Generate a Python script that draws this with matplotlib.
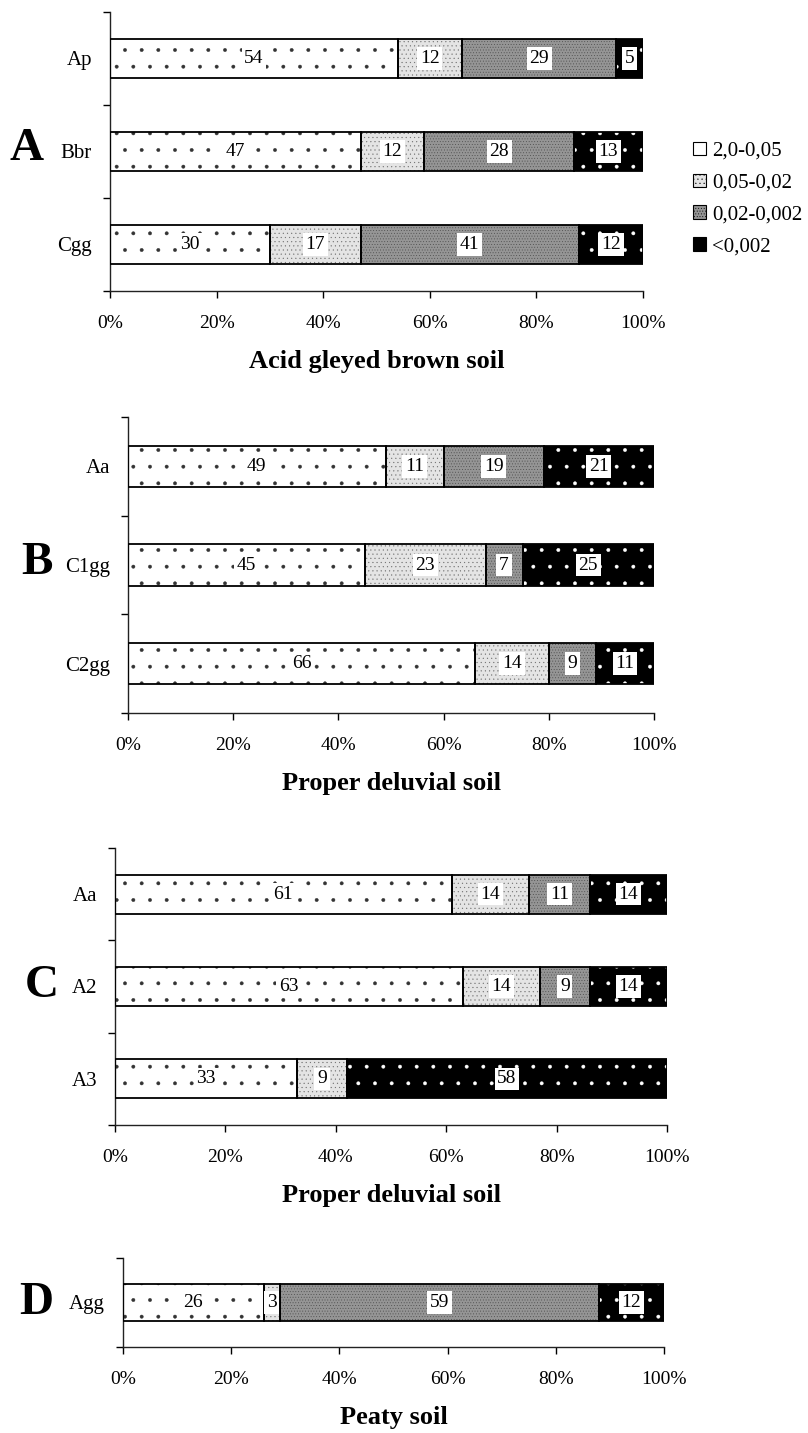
import numpy as np
import matplotlib
matplotlib.use("Agg")
import matplotlib.pyplot as plt
from matplotlib.patches import Patch

plt.rcParams['font.family'] = ['Liberation Serif', 'DejaVu Serif']
plt.rcParams['hatch.linewidth'] = 0.3

# ---------------- data ----------------
fractions = ["2,0-0,05", "0,05-0,02", "0,02-0,002", "<0,002"]

cats_A = ["Ap", "Bbr", "Cgg"]
vals_A = [[54, 12, 29, 5], [47, 12, 28, 13], [30, 17, 41, 12]]
title_A = "Acid gleyed brown soil"

cats_B = ["Aa", "C1gg", "C2gg"]
vals_B = [[49, 11, 19, 21], [45, 23, 7, 25], [66, 14, 9, 11]]
title_B = "Proper deluvial soil"

cats_C = ["Aa", "A2", "A3"]
vals_C = [[61, 14, 11, 14], [63, 14, 9, 14], [33, 9, 0, 58]]
title_C = "Proper deluvial soil"

cats_D = ["Agg"]
vals_D = [[26, 3, 59, 12]]
title_D = "Peaty soil"

panel_letters = ["A", "B", "C", "D"]
xticks = [0, 20, 40, 60, 80, 100]

# ---------------- styles ----------------
faces = ["white", "#e4e4e4", "#959595", "black"]
hatch_cols = ["#333333", "#707070", "#4a4a4a", "white"]
hatches = [".", "....", "......", "."]

W, H = 808, 1433
fig = plt.figure(figsize=(W / 100, H / 100), dpi=100)

# axes boxes in pixels: left, right, top, bottom
boxes = [(110, 643, 12, 291), (128, 654, 417, 713),
         (115, 667, 848, 1125), (123, 664, 1258, 1347)]
letter_pos = [(27, 149), (37, 563), (42, 986), (36, 1303)]
panels = [(cats_A, vals_A, title_A), (cats_B, vals_B, title_B),
          (cats_C, vals_C, title_C), (cats_D, vals_D, title_D)]

for (cats, vals, title), (l, r, t, b), letter, (lx, ly) in zip(panels, boxes, panel_letters, letter_pos):
    ax = fig.add_axes([l / W, 1 - b / H, (r - l) / W, (b - t) / H])
    n = len(cats)
    arr = np.array(vals)
    y = np.arange(n)
    cum = np.zeros(n)
    for j in range(4):
        v = arr[:, j]
        ax.barh(y, v, left=cum, height=0.42, color=faces[j],
                edgecolor=hatch_cols[j], hatch=hatches[j], linewidth=0, zorder=2)
        ax.barh(y, v, left=cum, height=0.42, fill=False,
                edgecolor="black", linewidth=1.3, zorder=3)
        for i in range(n):
            if v[i] > 0:
                ax.text(cum[i] + v[i] / 2, y[i], str(v[i]), ha="center", va="center",
                        fontsize=14, zorder=4,
                        bbox=dict(boxstyle="square,pad=0.14", fc="white", ec="none"))
        cum = cum + v
    ax.set_xlim(0, 100)
    ax.set_ylim(n - 0.5, -0.5)
    ax.set_xticks(xticks)
    ax.set_xticklabels([f"{x}%" for x in xticks], fontsize=14)
    ax.set_yticks(y)
    ax.set_yticklabels(cats, fontsize=15)
    ax.set_yticks(np.arange(n + 1) - 0.5, minor=True)
    ax.tick_params(axis="y", which="major", length=0, pad=13)
    ax.tick_params(axis="y", which="minor", length=5, width=1, direction="out")
    ax.tick_params(axis="x", length=5, width=1, direction="out", pad=12)
    for s in ["top", "right"]:
        ax.spines[s].set_visible(False)
    for s in ["left", "bottom"]:
        ax.spines[s].set_linewidth(1)
        ax.spines[s].set_color("#222222")
    ax.set_xlabel(title, fontsize=19, fontweight="bold", labelpad=13)
    fig.text(lx / W, 1 - ly / H, letter, fontsize=34, fontweight="bold",
             ha="center", va="center")

handles = [Patch(facecolor=faces[j], edgecolor="black", hatch=hatches[j], linewidth=0.8)
           for j in range(4)]
fig.legend(handles, fractions, loc="center left", bbox_to_anchor=(683 / W, 1 - 199 / H),
           frameon=False, fontsize=15, handlelength=0.6, handleheight=0.6,
           handletextpad=0.3, labelspacing=0.62, borderpad=0)

fig.savefig("out.png", dpi=100)
